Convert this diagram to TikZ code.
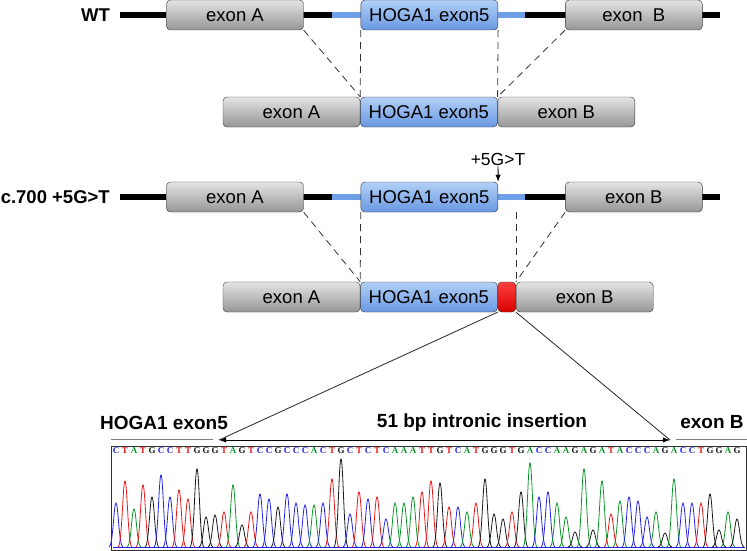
\documentclass[tikz,border=0pt]{standalone}
\usepackage{fontspec}
\setmainfont{Liberation Sans}
\newfontfamily\seqfont{Liberation Serif}
\usepackage{tikz}
\usetikzlibrary{arrows.meta,positioning,calc}
\definecolor{intronblue}{RGB}{110,160,232}
\definecolor{exgrayA}{RGB}{228,228,228}
\definecolor{exgrayB}{RGB}{150,150,150}
\definecolor{hogaA}{RGB}{178,208,246}
\definecolor{hogaB}{RGB}{105,152,226}
\definecolor{colA}{RGB}{10,150,40}
\definecolor{colC}{RGB}{35,35,230}
\definecolor{colG}{RGB}{25,25,25}
\definecolor{colT}{RGB}{232,25,25}

\begin{document}
\begin{tikzpicture}[x=1pt,y=-1pt,>=Latex,node distance=0pt]
  \tikzstyle{exbox}=[draw=black!80,rounded corners=4pt,minimum width=137pt,minimum height=30pt,inner sep=0pt,top color=exgrayA,bottom color=exgrayB,font=\fontsize{18.5}{20}\selectfont]
  \tikzstyle{hobox}=[exbox,top color=hogaA,bottom color=hogaB]
  \tikzstyle{insbox}=[exbox,minimum width=18pt,top color=red!75,bottom color=red!85!black]
  \tikzstyle{rowlabel}=[font=\bfseries\fontsize{18.5}{20}\selectfont,anchor=east,inner sep=0pt]
  \tikzstyle{intron}=[line width=5.5pt]
  \tikzstyle{cut}=[dash pattern=on 7pt off 5pt,black!80,line width=0.8pt]
  \tikzstyle{seqlabel}=[font=\bfseries\fontsize{19}{21}\selectfont,inner sep=0pt]
  \tikzstyle{seqchar}=[font=\seqfont\bfseries\fontsize{9}{10}\selectfont,inner sep=0pt]
  \useasboundingbox (0,0) rectangle (747,551);

  % wild type gene
  \node[rowlabel] (wt) at (110,15) {WT};
  \coordinate (wtS) at (120,15);
  \coordinate (wtE) at (720,15);
  \coordinate (wtL) at (332,15);
  \coordinate (wtR) at (525,15);
  \draw[intron] (wtS) -- (wtE);
  \draw[intron,intronblue] (wtL) -- (wtR);
  \node[exbox] (wtA) at (235,15) {exon A};
  \node[hobox,right=57pt of wtA] (wtH) {HOGA1 exon5};
  \node[exbox,right=67pt of wtH] (wtB) {exon\ \ B};

  \node[exbox] (mA) at (291.5,112) {exon A};
  \node[hobox,right=of mA] (mH) {HOGA1 exon5};
  \node[exbox,right=of mH] (mB) {exon B};
  \draw[cut] (wtA.south east) -- (mH.north west);
  \draw[cut] (wtH.south west) -- (mH.north west);
  \draw[cut] (wtH.south east) -- (mH.north east);
  \draw[cut] (wtB.south west) -- (mH.north east);

  % mutant gene
  \node[rowlabel] (mut) at (110,197) {c.700 +5G>T};
  \coordinate (cS) at (120,197);
  \coordinate (cE) at (720,197);
  \coordinate (cL) at (332,197);
  \coordinate (cR) at (525,197);
  \draw[intron] (cS) -- (cE);
  \draw[intron,intronblue] (cL) -- (cR);
  \node[exbox] (cA) at (235,197) {exon A};
  \node[hobox,right=57pt of cA] (cH) {HOGA1 exon5};
  \node[exbox,right=67pt of cH] (cB) {exon B};
  \node[font=\fontsize{17.5}{19}\selectfont,inner sep=1pt] (site) at (498,159) {+5G>T};
  \draw[->,line width=0.9pt] (site) -- (cH.north east);

  \node[exbox] (rA) at (291.5,297) {exon A};
  \node[hobox,right=of rA] (rH) {HOGA1 exon5};
  \node[insbox,right=of rH] (rX) {};
  \node[exbox,right=of rX] (rB) {exon B};
  \coordinate (cD) at (rX.north east |- cH.south);
  \draw[cut] (cA.south east) -- (rH.north west);
  \draw[cut] (cH.south west) -- (rH.north west);
  \draw[cut] (cD) -- (rX.north east);
  \draw[cut] (cB.south west) -- (rX.north east);

  % sequence trace
  \coordinate (insL) at (219,440);
  \coordinate (insR) at (670,440);
  \draw[<->,line width=0.9pt] (insL) -- (insR);
  \draw[line width=0.8pt,black!85] (rX.south west) -- (insL);
  \draw[line width=0.8pt,black!85] (rX.south east) -- (insR);
  \node[seqlabel] (lH) at (164,423) {HOGA1 exon5};
  \node[seqlabel] (lI) at (482,423) {51 bp intronic insertion};
  \node[seqlabel] (lB) at (712,422) {exon B};
  \coordinate (gA) at (111,440);
  \coordinate (gB) at (213,440);
  \coordinate (gC) at (676,440);
  \coordinate (gD) at (747,440);
  \draw[gray,double=white,double distance=1pt,line width=0.7pt] (gA) -- (gB);
  \draw[gray,double=white,double distance=1pt,line width=0.7pt] (gC) -- (gD);

  \draw[black!80,line width=1pt] (111.5,446) rectangle (746.5,550.5);
  \draw[colC,line width=1pt] (113,547.5) -- (745,547.5);
  \foreach \b/\h [count=\i] in {C/44,T/66,A/38,T/62,G/50,C/72,C/50,T/57,T/48,G/78,G/30,G/32,T/35,A/62,G/22,T/35,C/53,C/48,G/40,C/53,C/44,C/42,A/42,C/44,T/68,G/88,C/33,T/55,C/48,T/50,C/28,A/44,A/44,A/50,T/55,T/66,G/64,T/40,C/40,A/35,T/44,G/68,G/33,G/28,T/35,G/55,A/84,C/50,C/55,A/44,A/30,G/15,A/78,G/17,A/66,T/33,A/46,C/50,C/46,C/30,A/35,G/14,A/68,C/44,C/44,T/44,G/53,G/17,A/35,G/28}{
    \pgfmathsetmacro{\px}{116+(\i-1)*9}
    \draw[col\b,line width=0.8pt] (\px-7,547) .. controls (\px-3,547) and (\px-2.2,547-\h) .. (\px,547-\h) .. controls (\px+2.2,547-\h) and (\px+3,547) .. (\px+7,547);
    \node[seqchar,text=col\b] (s\i) at (\px,451) {\b};
  }
\end{tikzpicture}
\end{document}
